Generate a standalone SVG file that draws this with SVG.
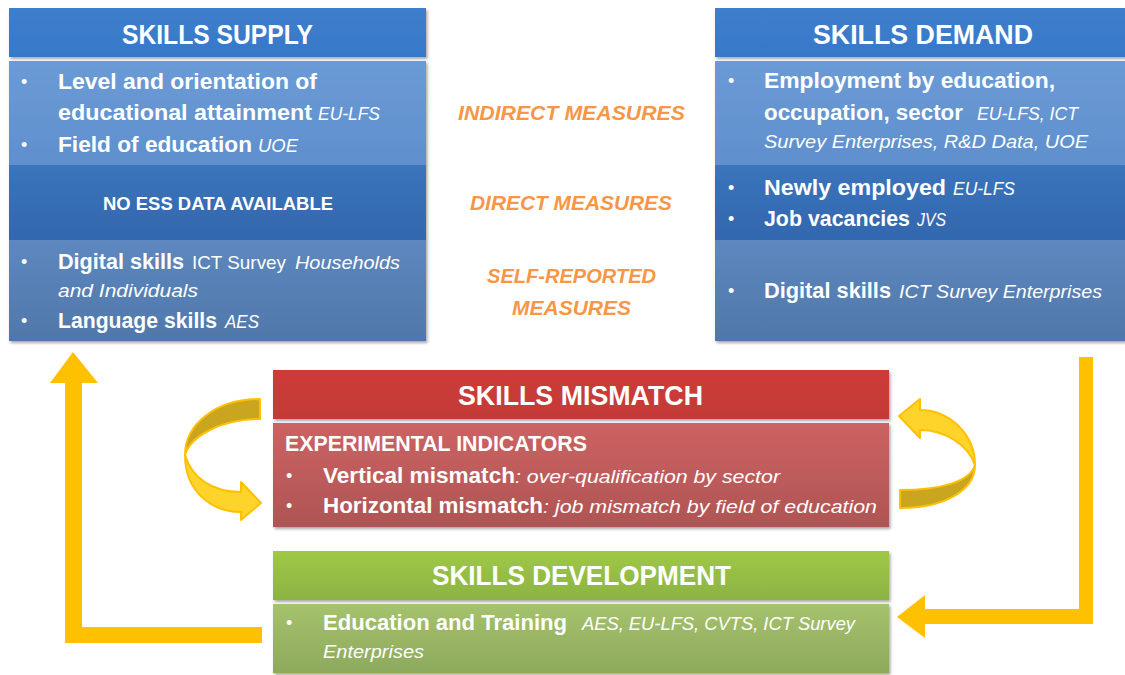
<svg xmlns="http://www.w3.org/2000/svg" width="1125" height="675" viewBox="0 0 1125 675">
<defs>
<style>
text{font-family:"Liberation Sans",Arial,sans-serif;fill:#fff}
.h{font-size:28px;font-weight:bold;text-anchor:start}
.b{font-size:22px;font-weight:bold}
.i{font-size:19px;font-style:italic}
.r{font-size:19px}
.s{font-size:19px;font-weight:bold}
.o{font-size:21px;font-weight:bold;font-style:italic;fill:#F79646}
.bu{font-size:18px}
.yel{fill:#FFC000}
.cl{fill:#FFD42A;stroke:#FFC000;stroke-width:2;stroke-linejoin:round}
.cd{fill:#C9A520;stroke:#FFC000;stroke-width:2;stroke-linejoin:round}
</style>
<filter id="sh" x="-5%" y="-5%" width="110%" height="115%">
<feDropShadow dx="1.5" dy="2" stdDeviation="1.8" flood-color="#000" flood-opacity="0.35"/>
</filter>
<linearGradient id="bh" x1="0" y1="0" x2="0" y2="1"><stop offset="0" stop-color="#3D7ECD"/><stop offset="1" stop-color="#3878C8"/></linearGradient>
<linearGradient id="b1" x1="0" y1="0" x2="0" y2="1"><stop offset="0" stop-color="#6B9BD6"/><stop offset="1" stop-color="#5F8FCD"/></linearGradient>
<linearGradient id="b2" x1="0" y1="0" x2="0" y2="1"><stop offset="0" stop-color="#3B74BB"/><stop offset="1" stop-color="#3267AE"/></linearGradient>
<linearGradient id="b3" x1="0" y1="0" x2="0" y2="1"><stop offset="0" stop-color="#5D88BF"/><stop offset="1" stop-color="#5077AA"/></linearGradient>
<linearGradient id="rh" x1="0" y1="0" x2="0" y2="1"><stop offset="0" stop-color="#CE3A36"/><stop offset="1" stop-color="#C23B39"/></linearGradient>
<linearGradient id="rb" x1="0" y1="0" x2="0" y2="1"><stop offset="0" stop-color="#CD6262"/><stop offset="1" stop-color="#AE5554"/></linearGradient>
<linearGradient id="gh" x1="0" y1="0" x2="0" y2="1"><stop offset="0" stop-color="#9FC847"/><stop offset="1" stop-color="#8CB343"/></linearGradient>
<linearGradient id="gb" x1="0" y1="0" x2="0" y2="1"><stop offset="0" stop-color="#A5C26D"/><stop offset="1" stop-color="#8DA95C"/></linearGradient>
</defs>
<rect width="1125" height="675" fill="#fff"/>

<g id="connectors">
<path class="yel" d="M262,627 L262,643 L65,643 L65,383 L50,383 L73,352 L98,383 L82,383 L82,627 Z"/>
<path class="yel" d="M1079,357 L1093,357 L1093,624 L925,624 L925,638 L897,617 L925,595 L925,609 L1079,609 Z"/>
<path class="cd" d="M260,399 C215,399 185,425 185,455 C190,437 220,419 260,419 Z"/>
<path class="cl" d="M185,455 C185,490 210,512 241,512 L241,520 L261,503 L241,482 L241,492 C212,492 192,478 185,455 Z"/>
<path class="cl" d="M975,465 C975,435 950,410 920,410 L920,399 L899,416 L920,438 L920,430 C945,430 968,445 975,465 Z"/>
<path class="cd" d="M975,465 C975,490 945,508 900,508 L900,490 C940,490 970,482 975,465 Z"/>
</g>

<g id="skills-supply" filter="url(#sh)">
<rect x="9" y="8" width="417" height="49" fill="url(#bh)"/>
<rect x="9" y="61" width="417" height="104" fill="url(#b1)"/>
<rect x="9" y="165" width="417" height="75" fill="url(#b2)"/>
<rect x="9" y="240" width="417" height="101" fill="url(#b3)"/>
</g>
<g id="skills-supply-text">
<text class="h" x="122" y="44" textLength="191" lengthAdjust="spacingAndGlyphs">SKILLS SUPPLY</text>
<text class="bu" x="21" y="88">•</text>
<text class="b" x="58" y="89" textLength="259" lengthAdjust="spacingAndGlyphs">Level and orientation of</text>
<text class="b" x="58" y="120" textLength="254" lengthAdjust="spacingAndGlyphs">educational attainment</text>
<text class="i" x="318" y="120" textLength="62" lengthAdjust="spacingAndGlyphs">EU-LFS</text>
<text class="bu" x="21" y="151">•</text>
<text class="b" x="58" y="152" textLength="194" lengthAdjust="spacingAndGlyphs">Field of education</text>
<text class="i" x="258" y="152" textLength="40" lengthAdjust="spacingAndGlyphs">UOE</text>
<text class="s" x="103" y="210" textLength="230" lengthAdjust="spacingAndGlyphs">NO ESS DATA AVAILABLE</text>
<text class="bu" x="21" y="268">•</text>
<text class="b" x="58" y="269" textLength="126" lengthAdjust="spacingAndGlyphs">Digital skills</text>
<text class="r" x="192" y="269" textLength="94" lengthAdjust="spacingAndGlyphs">ICT Survey</text>
<text class="i" x="295" y="269" textLength="105" lengthAdjust="spacingAndGlyphs">Households</text>
<text class="i" x="58" y="297" textLength="140" lengthAdjust="spacingAndGlyphs">and Individuals</text>
<text class="bu" x="21" y="327">•</text>
<text class="b" x="58" y="328" textLength="159" lengthAdjust="spacingAndGlyphs">Language skills</text>
<text class="i" x="225" y="328" textLength="34" lengthAdjust="spacingAndGlyphs">AES</text>
</g>

<g id="skills-demand" filter="url(#sh)">
<rect x="715" y="8" width="412" height="49" fill="url(#bh)"/>
<rect x="715" y="61" width="412" height="104" fill="url(#b1)"/>
<rect x="715" y="165" width="412" height="75" fill="url(#b2)"/>
<rect x="715" y="240" width="412" height="101" fill="url(#b3)"/>
</g>
<g id="skills-demand-text">
<text class="h" x="813" y="44" textLength="220" lengthAdjust="spacingAndGlyphs">SKILLS DEMAND</text>
<text class="bu" x="728" y="87">•</text>
<text class="b" x="764" y="88" textLength="291" lengthAdjust="spacingAndGlyphs">Employment by education,</text>
<text class="b" x="764" y="120" textLength="199" lengthAdjust="spacingAndGlyphs">occupation, sector</text>
<text class="i" x="977" y="120" textLength="101" lengthAdjust="spacingAndGlyphs">EU-LFS, ICT</text>
<text class="i" x="764" y="148" textLength="324" lengthAdjust="spacingAndGlyphs">Survey Enterprises, R&amp;D Data, UOE</text>
<text class="bu" x="728" y="194">•</text>
<text class="b" x="764" y="195" textLength="182" lengthAdjust="spacingAndGlyphs">Newly employed</text>
<text class="i" x="953" y="195" textLength="62" lengthAdjust="spacingAndGlyphs">EU-LFS</text>
<text class="bu" x="728" y="225">•</text>
<text class="b" x="764" y="226" textLength="146" lengthAdjust="spacingAndGlyphs">Job vacancies</text>
<text class="i" x="917" y="226" textLength="29" lengthAdjust="spacingAndGlyphs">JVS</text>
<text class="bu" x="728" y="297">•</text>
<text class="b" x="764" y="298" textLength="127" lengthAdjust="spacingAndGlyphs">Digital skills</text>
<text class="i" x="899" y="298" textLength="203" lengthAdjust="spacingAndGlyphs">ICT Survey Enterprises</text>
</g>

<g id="measures">
<text class="o" x="458" y="120" textLength="227" lengthAdjust="spacingAndGlyphs">INDIRECT MEASURES</text>
<text class="o" x="470" y="210" textLength="202" lengthAdjust="spacingAndGlyphs">DIRECT MEASURES</text>
<text class="o" x="487" y="283" textLength="169" lengthAdjust="spacingAndGlyphs">SELF-REPORTED</text>
<text class="o" x="512" y="315" textLength="119" lengthAdjust="spacingAndGlyphs">MEASURES</text>
</g>

<g id="skills-mismatch">
<g filter="url(#sh)">
<rect x="273" y="370" width="616" height="49" fill="url(#rh)"/>
<rect x="273" y="423" width="616" height="104" fill="url(#rb)"/>
</g>
<text class="h" x="458" y="405" textLength="245" lengthAdjust="spacingAndGlyphs">SKILLS MISMATCH</text>
<text class="b" x="285" y="451" textLength="302" lengthAdjust="spacingAndGlyphs">EXPERIMENTAL INDICATORS</text>
<text class="bu" x="286" y="482">•</text>
<text class="b" x="323" y="483" textLength="192" lengthAdjust="spacingAndGlyphs">Vertical mismatch</text>
<text class="i" x="515" y="483" textLength="265" lengthAdjust="spacingAndGlyphs">: over-qualification by sector</text>
<text class="bu" x="286" y="512">•</text>
<text class="b" x="323" y="513" textLength="220" lengthAdjust="spacingAndGlyphs">Horizontal mismatch</text>
<text class="i" x="543" y="513" textLength="334" lengthAdjust="spacingAndGlyphs">: job mismatch by field of education</text>
</g>

<g id="skills-development">
<g filter="url(#sh)">
<rect x="273" y="551" width="616" height="49" fill="url(#gh)"/>
<rect x="273" y="604" width="616" height="69" fill="url(#gb)"/>
</g>
<text class="h" x="432" y="585" textLength="299" lengthAdjust="spacingAndGlyphs">SKILLS DEVELOPMENT</text>
<text class="bu" x="286" y="629">•</text>
<text class="b" x="323" y="630" textLength="244" lengthAdjust="spacingAndGlyphs">Education and Training</text>
<text class="i" x="582" y="630" textLength="273" lengthAdjust="spacingAndGlyphs">AES, EU-LFS, CVTS, ICT Survey</text>
<text class="i" x="323" y="658" textLength="101" lengthAdjust="spacingAndGlyphs">Enterprises</text>
</g>
</svg>
